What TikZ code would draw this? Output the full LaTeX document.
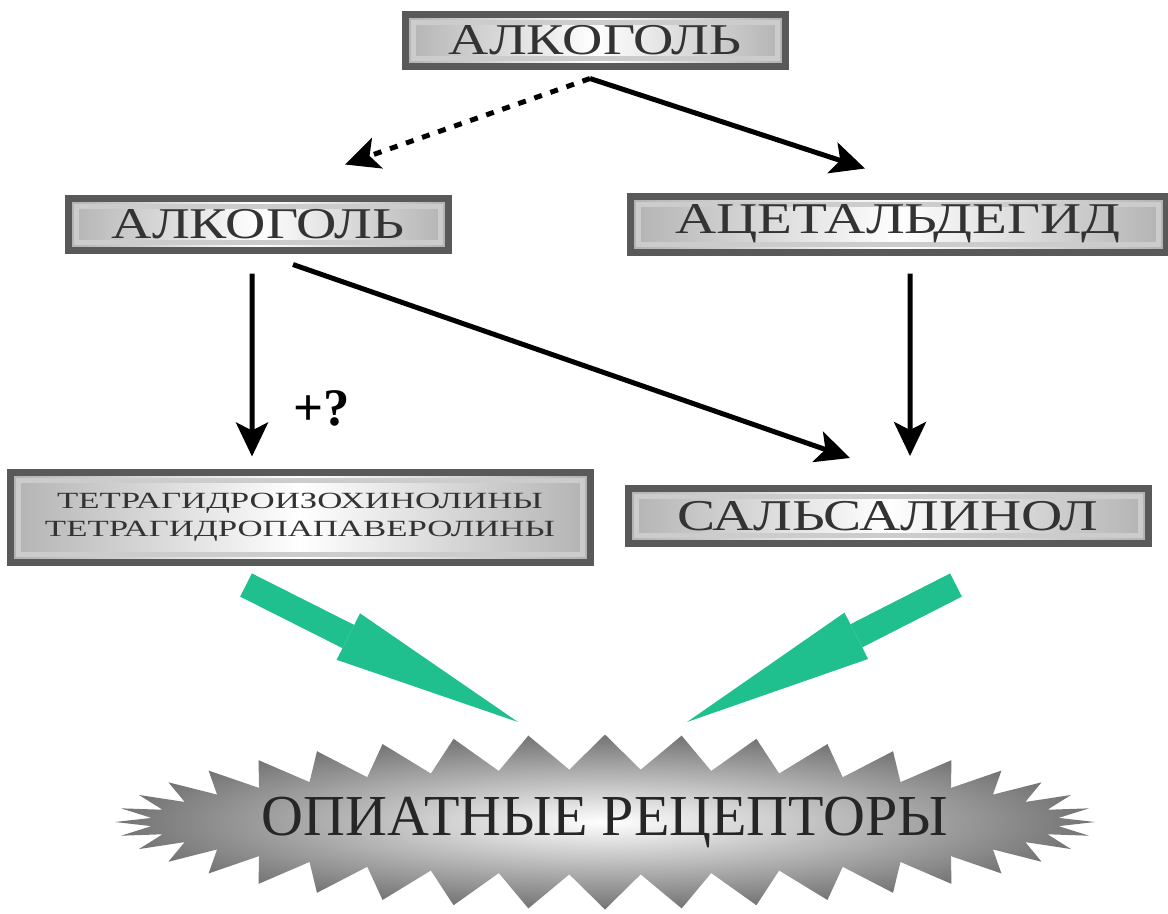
\documentclass[tikz,border=0pt]{standalone}
\usepackage{graphicx}
\usepackage{fontspec}
\setmainfont{Liberation Serif}
\usetikzlibrary{arrows.meta,shapes.symbols}
\definecolor{arrgreen}{RGB}{32,192,142}
\newcommand{\wide}[2]{\scalebox{#1}[1]{#2}}
\tikzset{
  plate/.style={draw=black!65, line width=0.7mm, left color=black!30, right color=black!30, middle color=white,
    inner sep=0pt, text=black!80, align=center,
    path picture={\draw[black!20, line width=0.5mm] ([shift={(0.8mm,-0.8mm)}]path picture bounding box.north west) rectangle ([shift={(-0.8mm,0.8mm)}]path picture bounding box.south east);}},
  conn/.style={line width=0.5mm, -{Stealth[length=3.4mm,width=3.2mm,inset=0.8mm]}},
  fat/.style={arrgreen, line width=2.6mm, -{Triangle[length=19mm,width=5.2mm,line width=0pt]}}
}

\begin{document}
\begin{tikzpicture}[x=0.1mm,y=-0.1mm]
\useasboundingbox (0,0) rectangle (1168,913);
\node [plate, minimum width=38mm, minimum height=5.2mm, font=\fontsize{12.5}{12}\selectfont] (top) at (595,40) {\wide{1.27}{АЛКОГОЛЬ}};
\node [plate, minimum width=38mm, minimum height=5.2mm, font=\fontsize{12.5}{12}\selectfont] (alc) at (258,224) {\wide{1.27}{АЛКОГОЛЬ}};
\node [plate, minimum width=53.6mm, minimum height=5.6mm, font=\fontsize{12.5}{12}\selectfont] (acet) at (898,224) {\wide{1.3}{АЦЕТАЛЬДЕГИД}};
\node [plate, minimum width=58mm, minimum height=9mm, font=\fontsize{6.6}{8}\selectfont] (tetra) at (300,517) {\wide{1.5}{ТЕТРАГИДРОИЗОХИНОЛИНЫ}\\ \wide{1.5}{ТЕТРАГИДРОПАПАВЕРОЛИНЫ}};
\node [plate, minimum width=52mm, minimum height=5.5mm, font=\fontsize{12.5}{12}\selectfont] (sals) at (888,516) {\wide{1.3}{САЛЬСАЛИНОЛ}};
\node [starburst, starburst points=40, starburst point height=3.5mm, random starburst=0, minimum width=98mm, minimum height=17.5mm,
  inner color=white, outer color=black!55, text=black!85, font=\fontsize{16.5}{17}\selectfont] (recep) at (605,822) {\makebox[0pt]{ОПИАТНЫЕ РЕЦЕПТОРЫ}};
\node [font=\bfseries\fontsize{15}{15}\selectfont] (q) at (322,408) {+?};

\draw [conn, dash pattern=on 0.8mm off 0.9mm] ([shift={(-0.5mm,-0.9mm)}]top.south) -- ([shift={(8.7mm,3mm)}]alc.north);
\draw [conn] ([shift={(-0.5mm,-0.9mm)}]top.south) -- ([shift={(-3.3mm,2.4mm)}]acet.north);
\draw [conn] ([shift={(-0.6mm,-2mm)}]alc.south) -- ([shift={(-4.8mm,1.2mm)}]tetra.north);
\draw [conn] ([shift={(3.5mm,-1.1mm)}]alc.south) -- ([shift={(-3.8mm,2.7mm)}]sals.north);
\draw [conn] ([shift={(1.2mm,-1.8mm)}]acet.south) -- ([shift={(2.2mm,2.9mm)}]sals.north);

\coordinate (g1) at (246,585);
\coordinate (g1e) at (518,722);
\coordinate (g2) at (956,585);
\coordinate (g2e) at (687,722);
\draw [fat] (g1) -- (g1e);
\draw [fat] (g2) -- (g2e);
\end{tikzpicture}
\end{document}
